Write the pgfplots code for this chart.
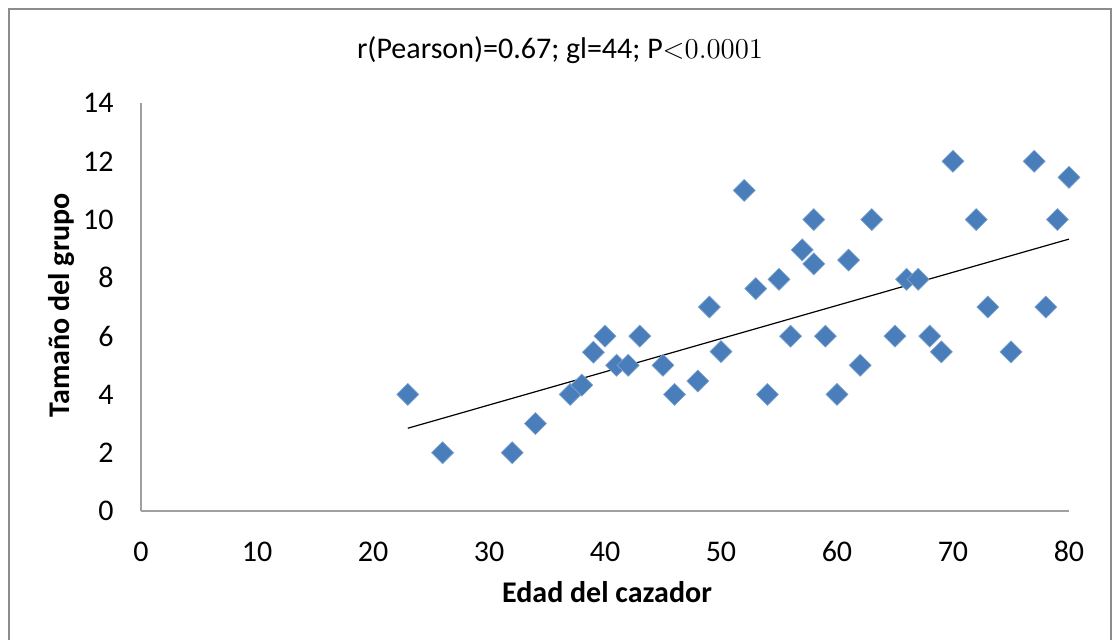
\documentclass[border=0pt]{standalone}
\usepackage{pgfplots}
\pgfplotsset{compat=1.18}
\usepackage{fontspec}
\setmainfont{Carlito}
\definecolor{xlblue}{HTML}{4A7EBB}
\definecolor{xlaxis}{HTML}{A0A0A0}
\definecolor{xlframe}{HTML}{8C8C8C}

\begin{document}
\begin{tikzpicture}
  % 1 px of the reference = 0.5pt
  \useasboundingbox (-70.5pt,-64pt) rectangle (486.5pt,255.5pt);
  \draw[xlframe, line width=1.2pt] (-66pt,-70pt) -- (-66pt,251pt) -- (485pt,251pt) -- (485pt,-70pt);
  \begin{axis}[
      at={(0,0)}, anchor=south west,
      scale only axis,
      width=464pt, height=204pt,
      xmin=0, xmax=80, ymin=0, ymax=14,
      xtick={0,10,...,80}, ytick={0,2,...,14},
      axis x line=bottom, axis y line=left,
      axis line style={-, draw=xlaxis, line width=0.6pt},
      major tick length=0pt,
      clip=false,
      /pgf/number format/assume math mode=true,
      tick label style={font=\fontsize{15}{18}\selectfont, text=black},
      x tick label style={anchor=base, yshift=-25pt},
      y tick label style={anchor=east, inner sep=0pt, xshift=-13.5pt},
  ]
  \addplot[only marks, mark=square*,
      mark options={rotate=45, fill=xlblue, draw=xlblue!70!white, line width=0.3pt},
      mark size=3.9pt] coordinates {
      (23,4) (26,2) (32,2) (34,3) (37,4) (38,4.32) (39,5.45) (40,6)
      (41,5) (42,5) (43,6) (45,5) (46,4) (48,4.46) (49,7) (50,5.47)
      (52,11) (53,7.63) (54,4) (55,7.95) (56,6) (57,8.96) (58,8.48) (58,10)
      (59,6) (60,4) (61,8.61) (62,5) (63,10) (65,6) (66,7.95) (67,7.95)
      (68,6) (69,5.46) (70,12) (72,10) (73,7) (75,5.46) (77,12) (78,7)
      (79,10) (80,11.45)
  };
  \addplot[black, line width=0.6pt, mark=none] coordinates {
      (23,2.84) (80,9.33)
  };
  \end{axis}
  \node[font=\fontsize{15}{18}\selectfont] at (209.5pt,230.5pt)
      {r(Pearson)=0.67; gl=44; P$\mathord{<}0.0001$};
  \node[font=\fontsize{15}{18}\selectfont\bfseries] at (233pt,-40.5pt) {Edad del cazador};
  \node[font=\fontsize{15}{18}\selectfont\bfseries, rotate=90] at (-39.5pt,103pt) {Tamaño del grupo};
\end{tikzpicture}
\end{document}
